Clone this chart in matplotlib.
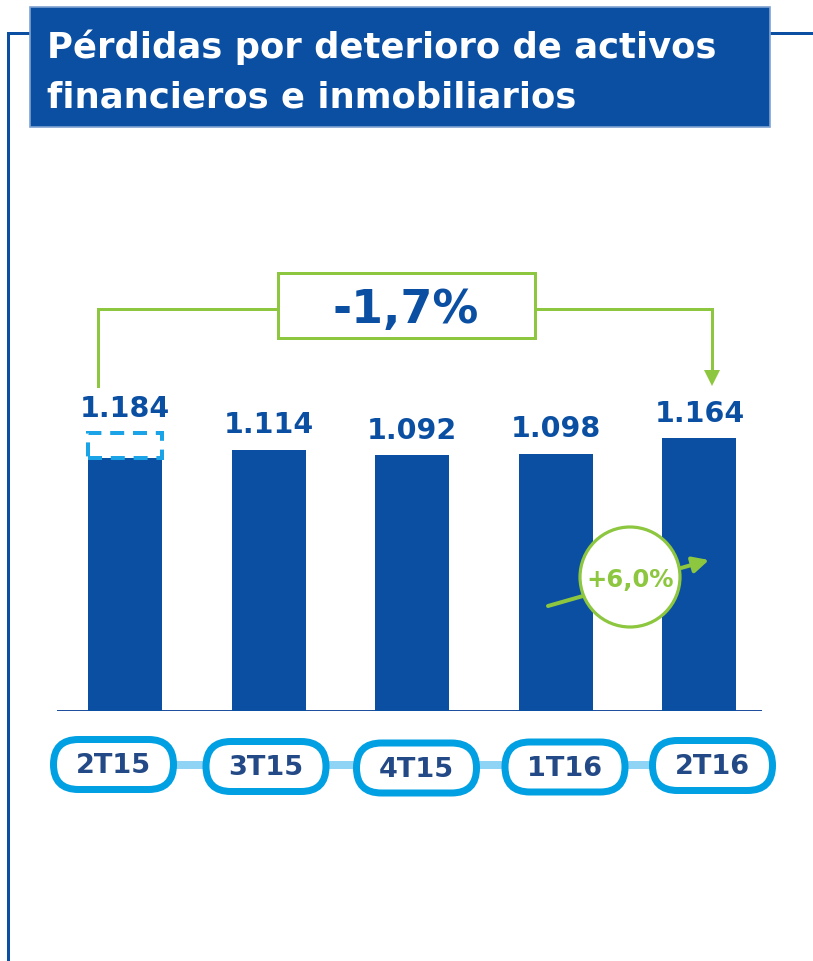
import matplotlib
matplotlib.use("Agg")
import matplotlib.pyplot as plt
from matplotlib.patches import Rectangle, FancyBboxPatch, Circle, Polygon

# ---------------- data ----------------
categories = ["2T15", "3T15", "4T15", "1T16", "2T16"]
values = [1184, 1114, 1092, 1098, 1164]
solid_2t15 = 1079          # solid part of the first bar (rest shown dashed)
title_lines = ["Pérdidas por deterioro de activos", "financieros e inmobiliarios"]
total_change = "-1,7%"
last_change = "+6,0%"

# ---------------- style ----------------
BLUE = "#0b4fa2"
GREEN = "#8dc63f"
CYAN = "#00a0e3"
LIGHTCYAN = "#8fd4f5"
PILLTXT = "#234a86"
FONT = "DejaVu Sans"
PX = 0.72  # points per pixel at dpi=100

W, H = 813, 962
fig = plt.figure(figsize=(W / 100, H / 100), dpi=100)

# bar axes (pixel layout)
step = 143.6
x0c = 125.0
base_px = 712.0
scale = 0.2344  # px per unit
ax_left = x0c - 0.5 * step
ax_h = 600.0
ax = fig.add_axes([ax_left / W, (H - base_px) / H, 5 * step / W, ax_h / H])
ax.set_xlim(-0.5, 4.5)
ax.set_ylim(0, ax_h / scale)
ax.axis("off")
ax.patch.set_alpha(0)

heights = [solid_2t15] + values[1:]
xs = list(range(len(categories)))
bw = 74 / step
ax.bar(xs, heights, width=bw, color=BLUE, zorder=3)
ax.plot([-0.474, 4.436], [0, 0], color="#1f4f9f", lw=2 * PX, zorder=2, solid_capstyle="butt")

# dashed portion for first bar
ax.add_patch(Rectangle((xs[0] - bw / 2, solid_2t15), bw, values[0] - solid_2t15,
                       fill=False, edgecolor="#1aa3e6", lw=4 * PX,
                       linestyle=(0, (3.5, 2.2)), zorder=4))

for x, v in zip(xs, values):
    ax.annotate(f"{v:,}".replace(",", "."), (x, v), xytext=(0, 17.5),
                textcoords="offset pixels", ha="center", va="baseline",
                fontsize=20.5, fontweight="bold", color=BLUE, family=FONT)

# overlay axes in pixel coordinates
ov = fig.add_axes([0, 0, 1, 1], zorder=5)
ov.set_xlim(0, W)
ov.set_ylim(H, 0)
ov.axis("off")
ov.patch.set_alpha(0)

# frame lines
ov.plot([7.5, 7.5, W], [H, 33.5, 33.5], color=BLUE, lw=3 * PX, solid_joinstyle="miter", zorder=1)
# title box
ov.add_patch(Rectangle((30, 8), 740, 120, facecolor=BLUE, edgecolor="#7fa2d2", lw=1.2, zorder=2))
ov.text(47, 58, title_lines[0], color="white", fontsize=25.5, fontweight="bold",
        family=FONT, ha="left", va="baseline", zorder=3)
ov.text(47, 107, title_lines[1], color="white", fontsize=25.5, fontweight="bold",
        family=FONT, ha="left", va="baseline", zorder=3)

# green bracket with total change
glw = 3 * PX
ov.plot([98, 98, 278], [387, 310, 310], color=GREEN, lw=glw, solid_joinstyle="miter")
ov.plot([535, 712, 712], [310, 310, 374], color=GREEN, lw=glw, solid_joinstyle="miter")
ov.add_patch(Polygon([(704, 371), (720, 371), (712, 387)], closed=True, color=GREEN, lw=0))
ov.add_patch(Rectangle((278, 274), 257, 65, fill=False, edgecolor=GREEN, lw=glw))
ov.text(406, 311, total_change, color=BLUE, fontsize=33, fontweight="bold", family=FONT,
        ha="center", va="center")

# last-quarter change circle
ov.annotate("", xy=(709, 561), xytext=(548, 607),
            arrowprops=dict(arrowstyle="-|>", color=GREEN, lw=4 * PX, mutation_scale=24,
                            shrinkA=0, shrinkB=0), zorder=6)
ov.add_patch(Circle((630, 578), 50, facecolor="white", edgecolor=GREEN, lw=3.2 * PX, zorder=7))
ov.text(630, 580, last_change, color=GREEN, fontsize=17.5, fontweight="bold", family=FONT,
        ha="center", va="center", zorder=8)

# category pills
pill_cx = [113.5, 266, 416.5, 565, 712.5]
pill_cy = [765.5, 767.5, 769, 768, 766.5]
ov.plot([pill_cx[0], pill_cx[-1]], [766, 766], color=LIGHTCYAN, lw=8 * PX, zorder=3,
        solid_capstyle="butt")
pw, ph = 120, 50
for cx, cy, lab in zip(pill_cx, pill_cy, categories):
    ov.add_patch(FancyBboxPatch((cx - pw / 2, cy - ph / 2), pw, ph,
                                boxstyle="round,pad=0,rounding_size=25",
                                facecolor="white", edgecolor=CYAN, lw=7 * PX, zorder=4))
    ov.text(cx, cy + 1, lab, color=PILLTXT, fontsize=19.5, fontweight="bold", family=FONT,
            ha="center", va="center", zorder=5)

fig.savefig("out.png", dpi=100)
